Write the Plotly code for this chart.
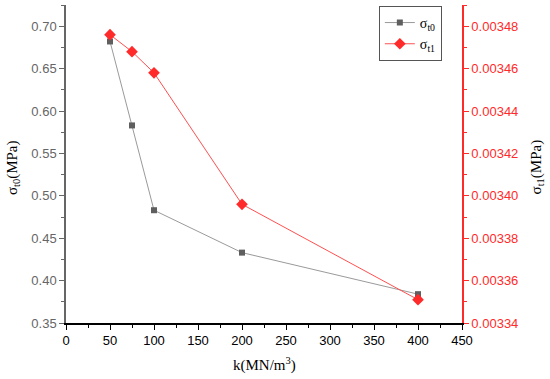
import plotly.graph_objects as go

k = [50, 75, 100, 200, 400]
sigma_t0 = [0.682, 0.583, 0.483, 0.433, 0.384]
sigma_t1 = [0.003476, 0.003468, 0.003458, 0.003396, 0.003351]

x_ticks = [0, 50, 100, 150, 200, 250, 300, 350, 400, 450]
y1_ticks = [0.35, 0.40, 0.45, 0.50, 0.55, 0.60, 0.65, 0.70]
y2_ticks = [0.00334, 0.00336, 0.00338, 0.00340, 0.00342, 0.00344, 0.00346, 0.00348]

GRAY = "#5f5f5f"
RED = "#ff2a2a"
SERIF = "Liberation Serif, Times New Roman"
tickfont = dict(family="Liberation Sans, Arial", size=13)
titlefont = dict(family=SERIF, size=15, color="black")

fig = go.Figure()
fig.add_trace(go.Scatter(
    x=k, y=sigma_t0, name="σ<sub>t0</sub>", mode="lines+markers",
    line=dict(color="#9a9a9a", width=1),
    marker=dict(symbol="square", size=6, color=GRAY),
    yaxis="y"))
fig.add_trace(go.Scatter(
    x=k, y=sigma_t1, name="σ<sub>t1</sub>", mode="lines+markers",
    line=dict(color="#ff5050", width=1),
    marker=dict(symbol="diamond", size=9, color=RED),
    yaxis="y2"))

fig.update_layout(
    width=550, height=379,
    margin=dict(l=66, r=88, t=5, b=56, autoexpand=False),
    paper_bgcolor="white", plot_bgcolor="white",
    showlegend=True,
    legend=dict(x=0.79, y=0.997, xanchor="left", yanchor="top",
                bgcolor="white", bordercolor="#555555", borderwidth=1,
                font=dict(family=SERIF, size=14, color="black"),
                itemwidth=30, tracegroupgap=0),
    xaxis=dict(
        range=[0, 450], tickvals=x_ticks, ticktext=[str(v) for v in x_ticks],
        showline=True, linecolor="black", linewidth=1.5,
        ticks="outside", ticklen=5, tickcolor="black",
        minor=dict(ticks="outside", dtick=25, tick0=0, ticklen=3, tickcolor="black"),
        showgrid=False, zeroline=False, automargin=False,
        tickfont=dict(tickfont, color="black"),
    ),
    yaxis=dict(
        range=[0.35, 0.725], tickvals=y1_ticks, ticktext=[f"{v:.2f}" for v in y1_ticks],
        showline=True, linecolor="#666666", linewidth=1.5,
        ticks="outside", ticklen=5, tickcolor="#666666",
        minor=dict(ticks="outside", dtick=0.025, tick0=0.35, ticklen=3, tickcolor="#666666"),
        showgrid=False, zeroline=False, automargin=False,
        tickfont=dict(tickfont, color="#666666"),
    ),
    yaxis2=dict(
        overlaying="y", side="right", anchor="x",
        range=[0.00334, 0.00349], tickvals=y2_ticks, ticktext=[f"{v:.5f}" for v in y2_ticks],
        showline=True, linecolor=RED, linewidth=1.5,
        ticks="outside", ticklen=5, tickcolor=RED,
        minor=dict(ticks="outside", dtick=0.00001, tick0=0.00334, ticklen=3, tickcolor=RED),
        showgrid=False, zeroline=False, automargin=False,
        tickfont=dict(tickfont, color=RED),
    ),
    annotations=[
        dict(text="k(MN/m<sup>3</sup>)", xref="paper", yref="paper", x=0.5, y=-0.132,
             xanchor="center", yanchor="middle", showarrow=False, font=titlefont),
        dict(text="σ<sub>t0</sub>(MPa)", xref="paper", yref="paper", x=-0.134, y=0.49,
             xanchor="center", yanchor="middle", showarrow=False, textangle=-90, font=titlefont),
        dict(text="σ<sub>t1</sub>(MPa)", xref="paper", yref="paper", x=1.19, y=0.49,
             xanchor="center", yanchor="middle", showarrow=False, textangle=-90, font=titlefont),
    ],
)

fig.write_html("out.html", config={"displayModeBar": False},
               post_script="document.body.style.margin='0';document.body.style.padding='0';")
